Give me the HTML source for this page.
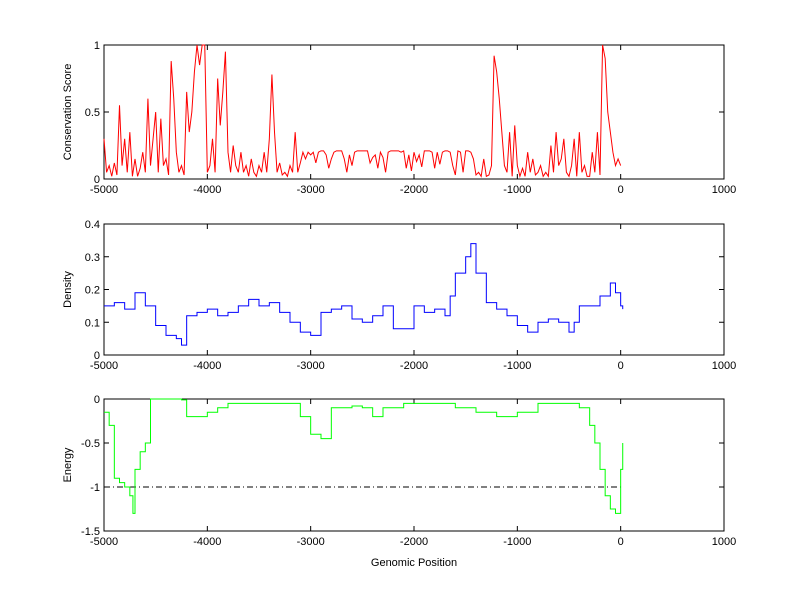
<!DOCTYPE html>
<html><head><meta charset="utf-8"><style>
html,body{margin:0;padding:0;background:#fff;}
svg{display:block;font-family:"Liberation Sans",Arial,sans-serif;}
</style></head><body>
<svg id="fig" width="800" height="599" viewBox="0 0 800 599"></svg>
<script>
const xTicks=[-5000,-4000,-3000,-2000,-1000,0,1000];
const consStart=-5000, consStep=25;
const consValues=[
.3,.05,.1,.02, .12,.03,.55,.1, .3,.05,.35,.02, .15,.02,.08,.2, .05,.6,.1,.3,
.5,.05,.45,.1, .15,.03,.88,.6, .2,.05,.1,.03, .65,.35,.5,.8, 1,.85,1,1,
.05,.1,.3,.05, .75,.4,.65,.95, .2,.05,.25,.1, .05,.2,.05,.1, .02,.15,.05,.02,
.1,.05,.2,.05, .3,.78,.35,.05, .12,.03,.05,.02, .1,.05,.35,.05, .12,.2,.15,.2,
.18,.2,.12,.2, .21,.21,.18,.08, .15,.2,.21,.21, .21,.15,.05,.18, .1,.2,.21,.21,
.21,.21,.21,.12, .16,.18,.08,.2, .16,.05,.2,.21, .21,.21,.21,.2, .21,.08,.18,.06,
.2,.13,.18,.09, .21,.21,.21,.2, .08,.2,.11,.2, .21,.21,.2,.1, .03,.21,.2,.05,
.21,.21,.2,.15, .03,.05,.02,.15, .02,.03,.1,.92, .8,.6,.35,.1, .05,.35,.02,.4,
.1,.02,.08,.02, .2,.05,.15,.03, .05,.1,.02,.05, .02,.25,.05,.35, .1,.15,.3,.05,
.02,.1,.3,.02, .35,.05,.1,.02, .02,.2,.05,.35, .03,1,.9,.5, .35,.2,.1,.15, .1];
const densX=[-5000,-4900,-4800,-4700,-4600,-4500,-4400,-4300,-4250,-4200,-4100,-4000,-3900,-3800,-3700,-3600,-3500,-3400,-3300,-3200,-3100,-3000,-2900,-2800,-2700,-2600,-2500,-2400,-2300,-2200,-2100,-2000,-1900,-1800,-1700,-1650,-1600,-1500,-1450,-1400,-1300,-1200,-1100,-1000,-900,-800,-700,-600,-500,-450,-400,-300,-200,-100,-50,0,20];
const densY=[0.15,0.16,0.14,0.19,0.15,0.09,0.06,0.05,0.03,0.12,0.13,0.14,0.12,0.13,0.15,0.17,0.15,0.16,0.13,0.10,0.07,0.06,0.13,0.14,0.15,0.11,0.10,0.12,0.15,0.08,0.08,0.15,0.13,0.14,0.12,0.18,0.25,0.30,0.34,0.25,0.16,0.14,0.12,0.09,0.07,0.10,0.11,0.10,0.07,0.10,0.15,0.15,0.18,0.22,0.19,0.15,0.14];
const enX=[-5000,-4950,-4900,-4850,-4800,-4750,-4720,-4700,-4650,-4600,-4550,-4250,-4200,-4000,-3900,-3800,-3200,-3100,-3000,-2900,-2800,-2600,-2500,-2400,-2300,-2100,-1800,-1600,-1400,-1200,-1000,-800,-400,-300,-250,-200,-150,-100,-50,0,20];
const enY=[-0.15,-0.3,-0.9,-0.95,-1.0,-1.1,-1.3,-0.8,-0.6,-0.5,0,-0.01,-0.2,-0.15,-0.1,-0.05,-0.05,-0.2,-0.4,-0.45,-0.1,-0.08,-0.1,-0.2,-0.1,-0.05,-0.05,-0.1,-0.15,-0.2,-0.15,-0.05,-0.1,-0.3,-0.5,-0.8,-1.1,-1.25,-1.3,-0.8,-0.5];
const consTicks=[0,0.5,1], densTicks=[0,0.1,0.2,0.3,0.4], enTicks=[0,-0.5,-1,-1.5];

const NS="http://www.w3.org/2000/svg", svg=document.getElementById('fig');
const L=104,R=724;
const xs=v=>L+(v+5000)/6000*(R-L);
function mk(t,a,p){const e=document.createElementNS(NS,t);for(const k in a)e.setAttribute(k,a[k]);(p||svg).appendChild(e);return e;}
function axes(name,top,bot,ymin,ymax,yticks,ylabel){
  const g=mk('g',{});
  
  
  const ys=v=>bot-(v-ymin)/(ymax-ymin)*(bot-top);
  const r=mk('rect',{x:L,y:top,width:R-L,height:bot-top,fill:'#fff',stroke:'#000','stroke-width':1},g);
  
  
  xTicks.forEach(t=>{const x=xs(t);
    mk('line',{x1:x,x2:x,y1:bot,y2:bot-5,stroke:'#000'},g);
    mk('line',{x1:x,x2:x,y1:top,y2:top+5,stroke:'#000'},g);
    const tx=mk('text',{x:x,y:bot+14,'text-anchor':'middle','font-size':11},g);tx.textContent=t;
    
    });
  yticks.forEach(t=>{const y=ys(t);
    mk('line',{x1:L,x2:L+5,y1:y,y2:y,stroke:'#000'},g);
    mk('line',{x1:R,x2:R-5,y1:y,y2:y,stroke:'#000'},g);
    const tx=mk('text',{x:L-4,y:y+4,'text-anchor':'end','font-size':11},g);tx.textContent=t;
    
    });
  const yl=mk('text',{x:0,y:0,transform:`translate(${L-33},${(top+bot)/2}) rotate(-90)`,'text-anchor':'middle','font-size':11},g);
  yl.textContent=ylabel;
  
  
  return {g,ys};
}
// top
let a=axes('conservation-axes',45,179,0,1,consTicks,'Conservation Score');
let pts=consValues.map((v,i)=>xs(consStart+i*consStep)+','+a.ys(v)).join(' ');
let pl=mk('polyline',{points:pts,fill:'none',stroke:'#f00','stroke-width':1},a.g);


// middle
a=axes('density-axes',224,355,0,0.4,densTicks,'Density');
pts=[];densX.forEach((x,i)=>{if(i>0)pts.push(xs(x)+','+a.ys(densY[i-1]));pts.push(xs(x)+','+a.ys(densY[i]));});
pl=mk('polyline',{points:pts.join(' '),fill:'none',stroke:'#00f','stroke-width':1},a.g);


// bottom
a=axes('energy-axes',399,531,-1.5,0,enTicks,'Energy');
const th=mk('line',{x1:xs(-5000),x2:xs(0),y1:a.ys(-1),y2:a.ys(-1),stroke:'#000','stroke-dasharray':'6,3,1,3'},a.g);


pts=[];enX.forEach((x,i)=>{if(i>0)pts.push(xs(x)+','+a.ys(enY[i-1]));pts.push(xs(x)+','+a.ys(enY[i]));});
pl=mk('polyline',{points:pts.join(' '),fill:'none',stroke:'#0f0','stroke-width':1},a.g);


const xl=mk('text',{x:(L+R)/2,y:566,'text-anchor':'middle','font-size':11});
xl.textContent='Genomic Position';


</script>
</body></html>
